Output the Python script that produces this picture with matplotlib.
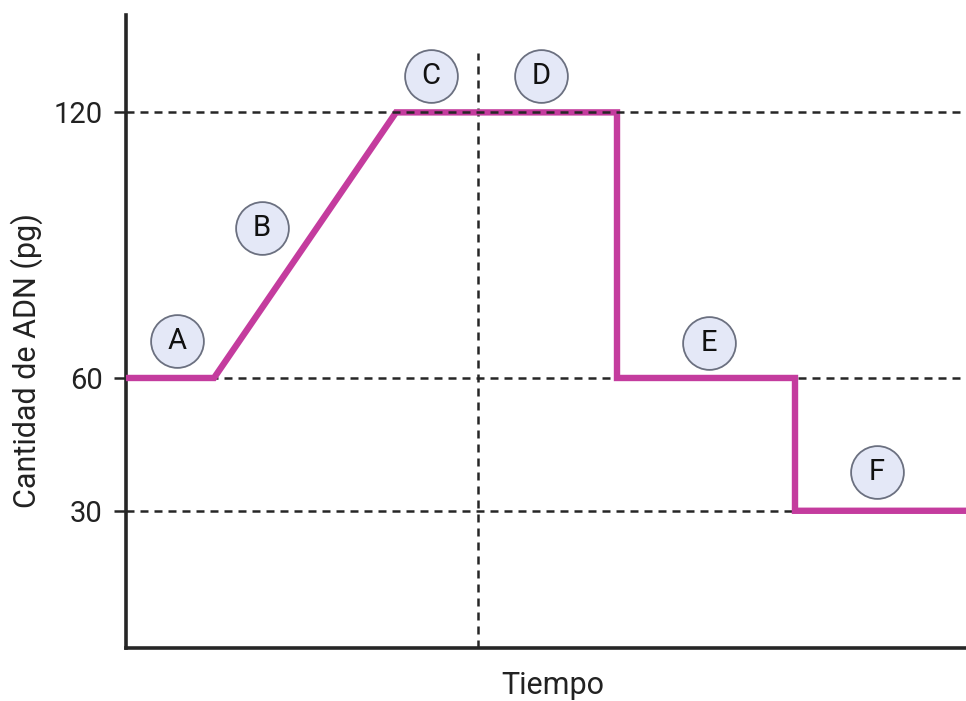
import matplotlib
matplotlib.use("Agg")
import matplotlib.pyplot as plt

plt.rcParams['font.family'] = ['Roboto', 'DejaVu Sans']

# time (arbitrary units) and DNA amount (pg)
tiempo = [0, 8.8, 27.0, 49.1, 49.1, 66.9, 66.9, 84.0]
adn = [60, 60, 120, 120, 60, 60, 30, 30]

niveles = [30, 60, 120]
t_division = 35.2

etiquetas = ['A', 'B', 'C', 'D', 'E', 'F']
etiq_x = [5.1, 13.6, 30.5, 41.5, 58.3, 75.1]
etiq_y = [68.3, 93.8, 128.2, 128.2, 68.0, 38.8]

magenta = '#c43c9e'
gris = '#262626'

fig = plt.figure(figsize=(9.66, 7.01), dpi=100)
ax = fig.add_axes([126/966, 53/701, 840/966, 633/701])

# reference levels
for n in niveles:
    z = 4 if n == 120 else 1
    ax.plot([0, 84], [n, n], color=gris, lw=1.8, dashes=(3.2, 2.4), zorder=z)
ax.plot([t_division, t_division], [-1, 133.5], color=gris, lw=1.8,
        dashes=(3.2, 2.4), zorder=1)

ax.plot(tiempo, adn, color=magenta, lw=4.6, solid_joinstyle='miter', zorder=3)

for lab, x, y in zip(etiquetas, etiq_x, etiq_y):
    ax.plot(x, y, 'o', ms=38, mfc='#e4e8f7', mec='#6b7080', mew=1.3, zorder=5)
    ax.text(x, y, lab, ha='center', va='center', fontsize=21, color='#111111', zorder=6)

ax.set_xlim(0, 84)
ax.set_ylim(-1, 142)
ax.set_xticks([])
ax.set_yticks(niveles)
ax.tick_params(axis='y', length=9, width=1.8, color=gris, labelsize=21,
               labelcolor='#222222', pad=8)
for s in ['top', 'right']:
    ax.spines[s].set_visible(False)
for s in ['left', 'bottom']:
    ax.spines[s].set_linewidth(2.6)
    ax.spines[s].set_color(gris)

fig.text(27/966, 1 - 361/701, 'Cantidad de ADN (pg)', rotation=90,
         ha='center', va='center', fontsize=22, color='#222222')
fig.text(553/966, 1/701, 'Tiempo', ha='center', va='bottom',
         fontsize=22, color='#222222')

fig.savefig('out.png', dpi=100)
